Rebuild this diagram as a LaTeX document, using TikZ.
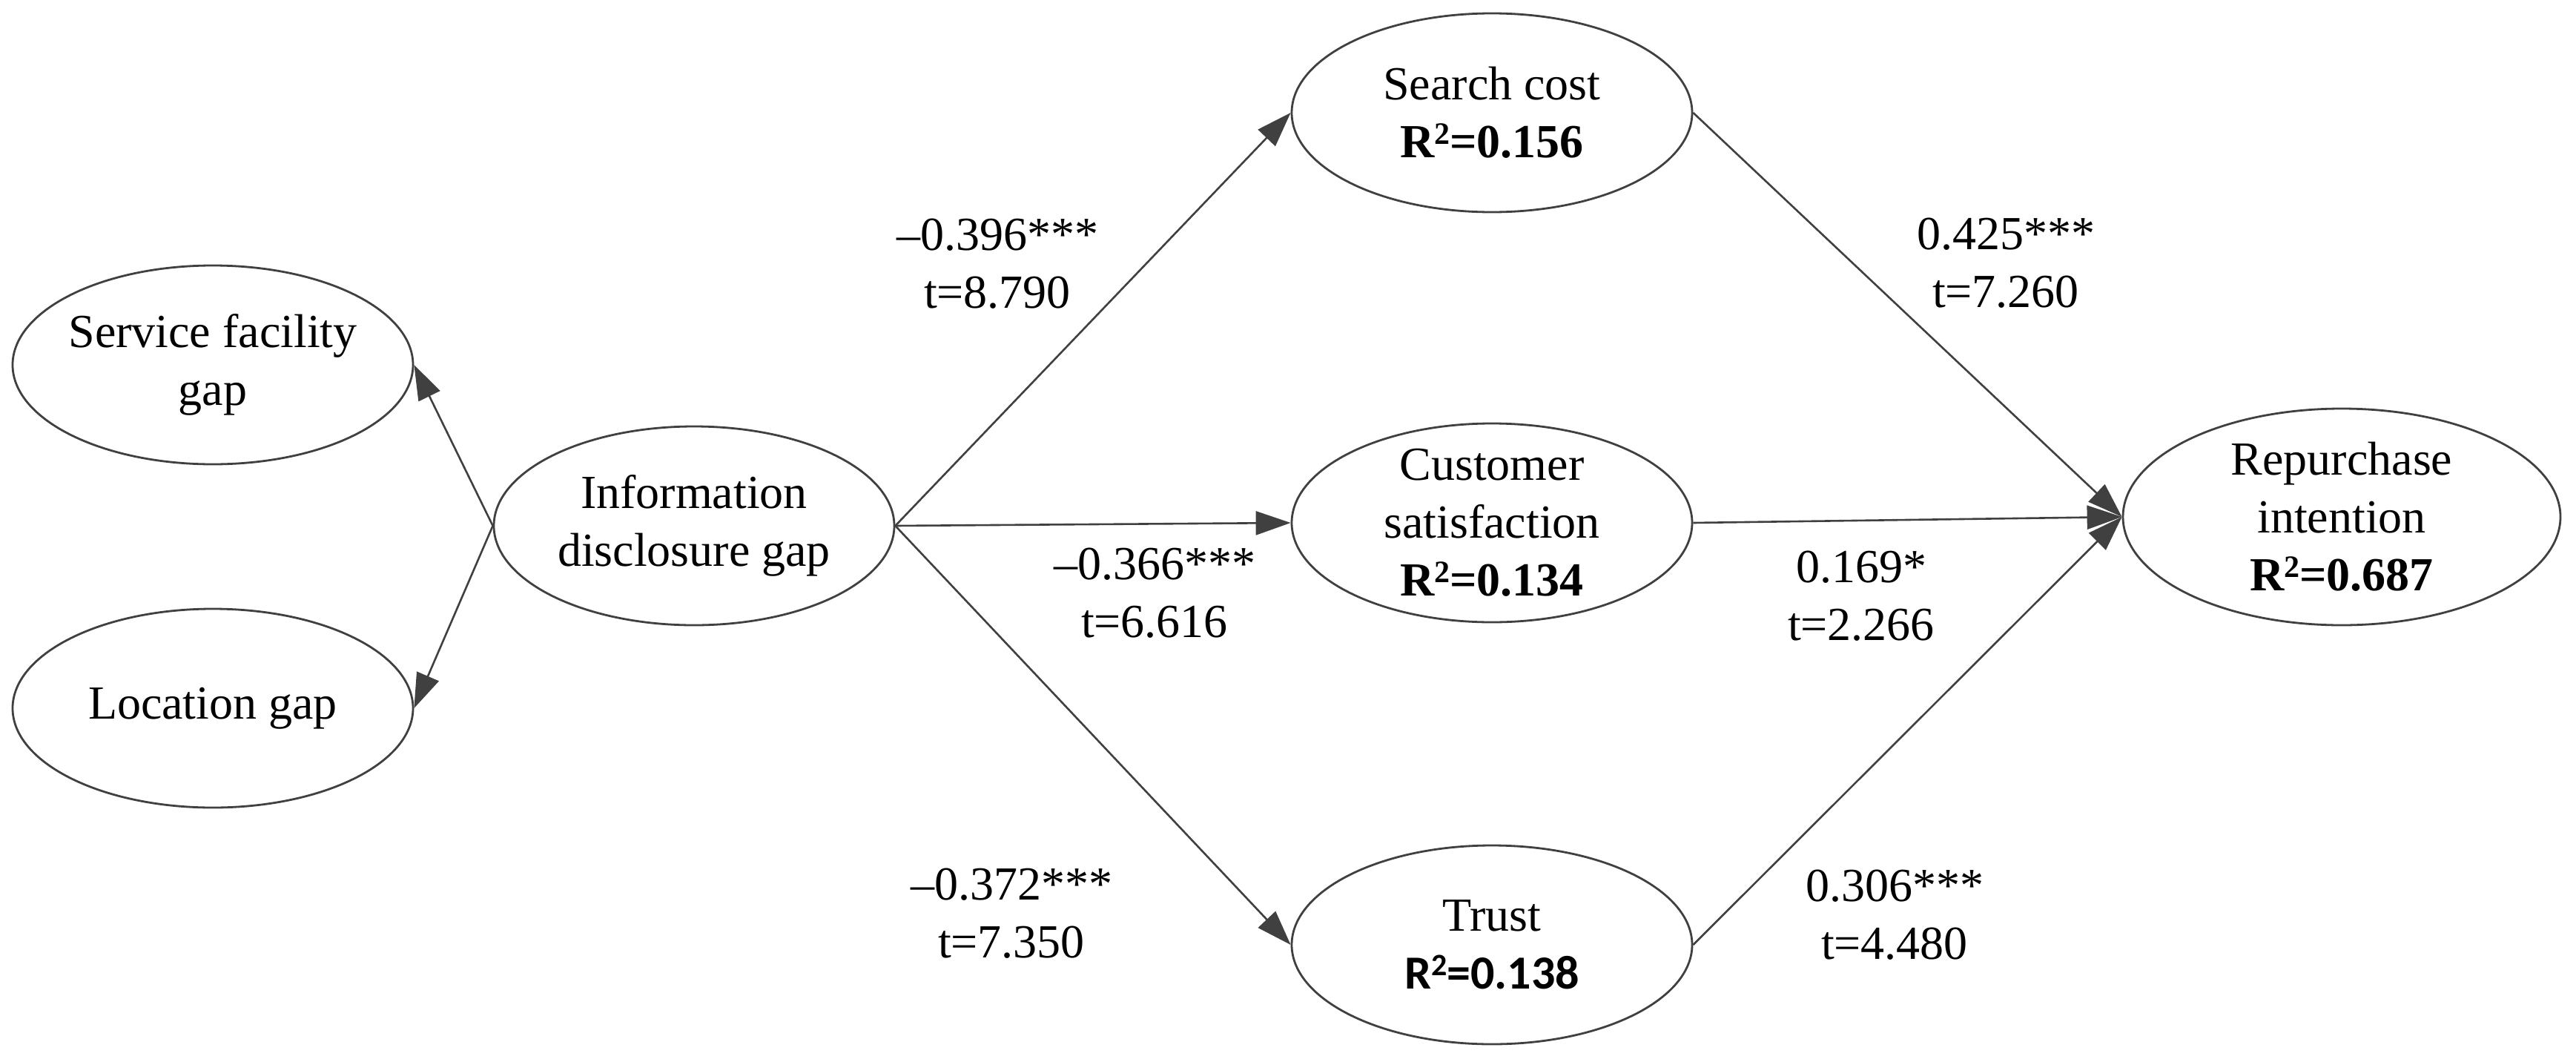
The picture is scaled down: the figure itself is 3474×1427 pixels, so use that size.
\documentclass[tikz,border=0pt]{standalone}
\usepackage{fontspec}
\setmainfont{Liberation Serif}
\newfontfamily\calibrifont{Carlito}
\usetikzlibrary{arrows.meta,shapes.geometric}
\definecolor{linegray}{HTML}{404040}
\newcommand\rsqmark{\raisebox{18pt}{\fontsize{42}{42}\selectfont 2}}
\begin{document}
\begin{tikzpicture}[x=1pt,y=-1pt,
  every node/.style={font=\fontsize{64}{78}\selectfont},
  latent/.style={ellipse, draw=linegray, line width=2.8pt, minimum width=540pt,
    minimum height=268pt, inner sep=-10pt, align=center},
  link/.style={draw=linegray, line width=2.6pt, -{Triangle[length=47pt,width=32pt]}},
  coef/.style={align=center, inner sep=0pt}]
\useasboundingbox (0,0) rectangle (3474,1427);
% latent constructs
\node[latent] (sf) at (287,492) {Service facility\\gap};
\node[latent] (loc) at (287,955) {Location gap};
\node[latent] (info) at (936,709) {Information\\disclosure gap};
\node[latent] (sc) at (2012,152) {Search cost\\\textbf{R\rsqmark=0.156}};
\node[latent] (cs) at (2012,705) {Customer\\satisfaction\\\textbf{R\rsqmark=0.134}};
\node[latent] (tr) at (2012,1274) {Trust\\{\calibrifont\bfseries R\rsqmark=0.138}};
\node[latent, minimum width=590pt, minimum height=292pt] (ri) at (3158,697)
  {Repurchase\\intention\\\textbf{R\rsqmark=0.687}};
% connectors
\draw[link] (info.west) -- (sf.east);
\draw[link] (info.west) -- (loc.east);
\draw[link] (info.east) -- (sc.west);
\draw[link] (info.east) -- (cs.west);
\draw[link] (info.east) -- (tr.west);
\draw[link] (sc.east) -- (ri.west);
\draw[link] (cs.east) -- (ri.west);
\draw[link] (tr.east) -- (ri.west);
% path coefficients
\node[coef] (c1) at (1345,356) {\textendash0.396***\\t=8.790};
\node[coef] (c2) at (1557,800) {\textendash0.366***\\t=6.616};
\node[coef] (c3) at (1364,1232) {\textendash0.372***\\t=7.350};
\node[coef] (c4) at (2705,355) {0.425***\\t=7.260};
\node[coef] (c5) at (2510,804) {0.169*\\t=2.266};
\node[coef] (c6) at (2555,1234) {0.306***\\t=4.480};
\end{tikzpicture}
\end{document}
